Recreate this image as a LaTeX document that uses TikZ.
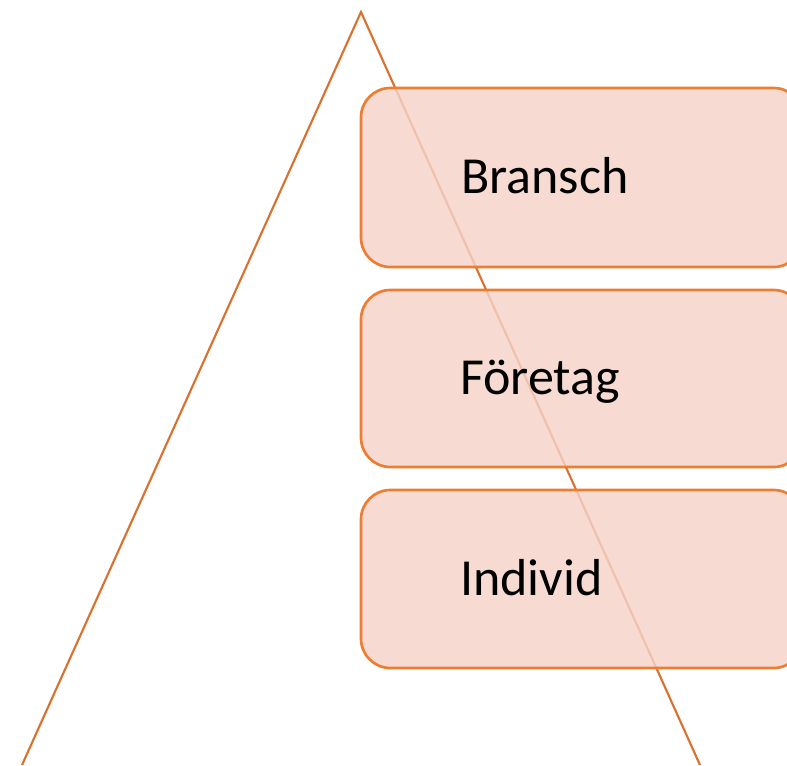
\documentclass[tikz,border=0pt]{standalone}
\usepackage{fontspec}
\setmainfont{Carlito}
\definecolor{edgeorange}{HTML}{ED7D31}
\definecolor{lineorange}{HTML}{D9712F}
\definecolor{boxfill}{HTML}{F5D2C8}
\tikzset{
  levelbox/.style={draw=edgeorange, line width=2pt, fill=boxfill, fill opacity=0.82,
    rounded corners=22pt},
  leveltext/.style={anchor=base west, inner sep=0pt, font=\fontsize{39}{47}\selectfont, text=black}
}
\begin{document}
\begin{tikzpicture}[x=0.75pt,y=-0.75pt]
\useasboundingbox (0,0) rectangle (787,765);
\clip (0,0) rectangle (787,765);
% pyramid outline
\coordinate (apex) at (361,12);
\coordinate (baseL) at (22,765);
\coordinate (baseR) at (700,765);
\draw[lineorange, line width=1.6pt] (baseL) -- (apex) -- (baseR);
% level boxes
\draw[levelbox] (361,88) rectangle (803,267);
\draw[levelbox] (361,290) rectangle (803,467);
\draw[levelbox] (361,490) rectangle (803,668);
% labels
\node[leveltext] (bransch) at (461,193) {Bransch};
\node[leveltext] (foretag) at (460,394) {Företag};
\node[leveltext] (individ) at (460,595) {Individ};
\end{tikzpicture}
\end{document}
